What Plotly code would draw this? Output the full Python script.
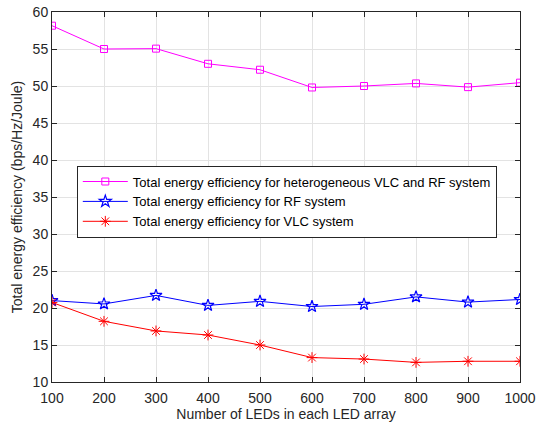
import plotly.graph_objects as go

leds = [100, 200, 300, 400, 500, 600, 700, 800, 900, 1000]
hetero = [58.15, 55.0, 55.05, 53.0, 52.2, 49.8, 50.0, 50.35, 49.85, 50.45]
rf = [21.0, 20.55, 21.7, 20.35, 20.9, 20.2, 20.5, 21.5, 20.8, 21.15]
vlc = [20.75, 18.2, 16.9, 16.35, 15.0, 13.3, 13.1, 12.65, 12.8, 12.8]

names = ["Total energy efficiency for heterogeneous VLC and RF system",
         "Total energy efficiency for RF system",
         "Total energy efficiency for VLC system"]

fig = go.Figure()
fig.add_trace(go.Scatter(x=leds, y=hetero, mode="lines+markers", name=names[0],
                         line=dict(color="#ff00ff", width=1),
                         marker=dict(symbol="square-open", size=7, color="#ff00ff", line=dict(width=1))))
fig.add_trace(go.Scatter(x=leds, y=rf, mode="lines+markers", name=names[1],
                         line=dict(color="#0000ff", width=1),
                         marker=dict(symbol="star-open", size=9, color="#0000ff", line=dict(width=1.2))))
fig.add_trace(go.Scatter(x=leds, y=vlc, mode="lines+markers", name=names[2],
                         line=dict(color="#ff0000", width=1),
                         marker=dict(symbol="asterisk-open", size=9, color="#ff0000", line=dict(width=1, color="#ff0000"))))

axis_common = dict(showline=True, linecolor="#262626", linewidth=1, mirror="ticks",
                   ticks="inside", ticklen=5, tickcolor="#262626", automargin=False,
                   showgrid=True, gridcolor="#e3e3e3", gridwidth=1, zeroline=False,
                   tickfont=dict(family="Liberation Sans, Arial", size=14, color="#262626"))

fig.update_layout(
    width=536, height=429,
    margin=dict(l=52, r=16, t=12, b=47),
    paper_bgcolor="white", plot_bgcolor="white",
    font=dict(family="Liberation Sans, Arial", size=14, color="#262626"),
    xaxis=dict(range=[100, 1000], tickvals=leds, ticklabelstandoff=3,
               title=dict(text="Number of LEDs in each LED array", standoff=2, font=dict(size=14)), **axis_common),
    yaxis=dict(range=[10, 60], dtick=5, title=dict(text="Total energy efficiency (bps/Hz/Joule)", standoff=6,
               font=dict(size=14)), **axis_common),
    legend=dict(x=0.053, y=0.585, xanchor="left", yanchor="top",
                bgcolor="white", bordercolor="#262626", borderwidth=1,
                font=dict(family="Liberation Sans, Arial", size=13, color="black"),
                tracegroupgap=0, itemwidth=45),
    showlegend=True,
)

fig.write_html("out.html")
